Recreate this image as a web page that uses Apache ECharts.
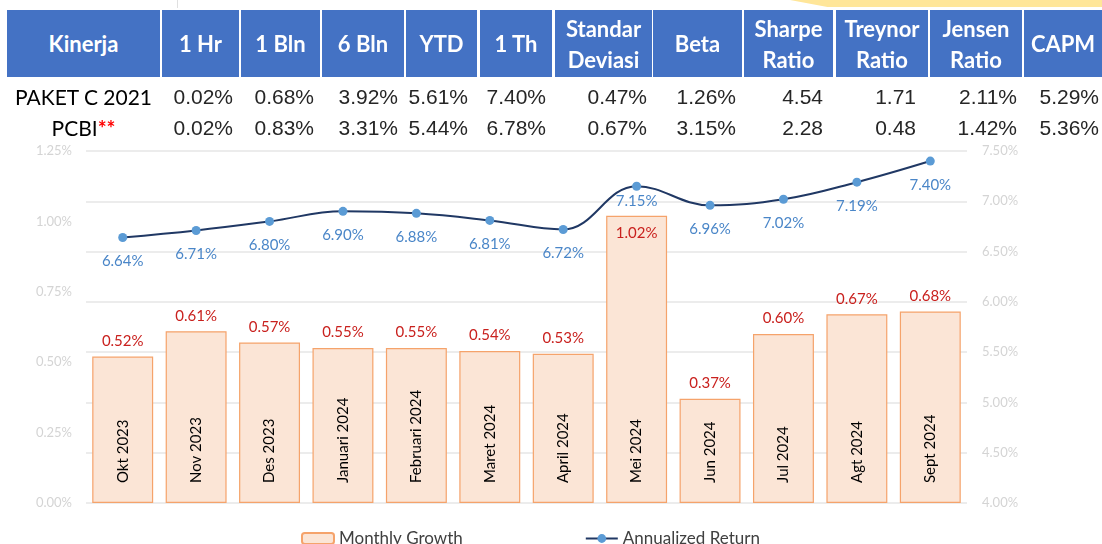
<!DOCTYPE html>
<html>
<head>
<meta charset="utf-8">
<script src="https://cdn.jsdelivr.net/npm/echarts@6/dist/echarts.min.js"></script>
<style>
* { margin: 0; padding: 0; }
body { width: 1102px; height: 544px; background: #fff; position: relative; overflow: hidden; }
#chart { position: absolute; left: 0; top: 0; width: 1102px; height: 544px; }
.hd { position: absolute; top: 10px; height: 67px; background: #4472C4; color: #fff;
      font: bold 22px Lato, sans-serif; display: flex; align-items: center; justify-content: center;
      text-align: center; line-height: 31px; white-space: pre; }
.rowname { position: absolute; width: 153px; left: 7px; text-align: center; font: 21px Lato, sans-serif; color: #000; }
.num { position: absolute; font: 21px "Liberation Sans", Arial, sans-serif; color: #262626; white-space: nowrap; }
.star { color: #ff0000; font-weight: bold; }
#deco { position: absolute; left: 790px; top: 0; width: 312px; height: 7px; background: #FFE699;
        clip-path: polygon(0 0, 100% 0, 100% 100%, 12% 100%); }
#tick { position: absolute; left: 177px; top: 0; width: 1px; height: 8px; background: #e0e0e0; }
</style>
</head>
<body>
<div id="chart"></div>
<div id="table"></div>
<div id="deco"></div>
<div id="tick"></div>
<script>
// tabel kinerja
const tableHeaders = ['Kinerja', '1 Hr', '1 Bln', '6 Bln', 'YTD', '1 Th', 'Standar\nDeviasi', 'Beta', 'Sharpe\nRatio', 'Treynor\nRatio', 'Jensen\nRatio', 'CAPM']
const rowNames = ['PAKET C 2021', 'PCBI']
const paketC = ['0.02%', '0.68%', '3.92%', '5.61%', '7.40%', '0.47%', '1.26%', '4.54', '1.71', '2.11%', '5.29%']
const pcbi = ['0.02%', '0.83%', '3.31%', '5.44%', '6.78%', '0.67%', '3.15%', '2.28', '0.48', '1.42%', '5.36%']

// grafik
const categories = ['Okt 2023', 'Nov 2023', 'Des 2023', 'Januari 2024', 'Februari 2024', 'Maret 2024', 'April 2024', 'Mei 2024', 'Jun 2024', 'Jul 2024', 'Agt 2024', 'Sept 2024']
const monthlyGrowth = [0.52, 0.61, 0.57, 0.55, 0.55, 0.54, 0.53, 1.02, 0.37, 0.60, 0.67, 0.68]
const annualizedReturn = [6.64, 6.71, 6.80, 6.90, 6.88, 6.81, 6.72, 7.15, 6.96, 7.02, 7.19, 7.40]
const labelInsideIdx = [7] // label bar Mei di dalam batang, label garis Mei lebih rapat

// layout tabel (x kiri/kanan tiap kolom header, x kanan angka)
const colEdges = [[7, 160], [162, 239], [241, 320], [322, 404], [406, 477], [480, 552], [555, 652], [653, 742], [744, 833], [836, 928], [930, 1022], [1024, 1102]]
const numRight = [233, 314, 398, 468, 546, 647, 736, 823, 916, 1017, 1099]
const rowTop = [84, 115]

function drawTable() {
    const box = document.getElementById('table')
    let html = ''
    tableHeaders.forEach((h, i) => {
        const [l, r] = colEdges[i]
        html += `<div class="hd" style="left:${l}px;width:${r - l}px">${h}</div>`
    })
    rowNames.forEach((name, ri) => {
        const txt = ri === 1 ? name + '<span class="star">**</span>' : name
        html += `<div class="rowname" style="top:${rowTop[ri]}px">${txt}</div>`
        const vals = ri === 0 ? paketC : pcbi
        vals.forEach((v, i) => {
            html += `<div class="num" style="top:${rowTop[ri] + 1}px;right:${1102 - numRight[i]}px">${v}</div>`
        })
    })
    box.innerHTML = html
}

function drawChart() {
    const chart = echarts.init(document.getElementById('chart'))
    const fmt = v => Number(v).toFixed(2) + '%'
    chart.setOption({
        textStyle: { fontFamily: 'Lato, sans-serif' },
        animation: false,
        grid: { left: 86, right: 135, top: 151, bottom: 41 },
        legend: {
            left: 296, top: 525, itemGap: 122, itemWidth: 32, itemHeight: 11,
            textStyle: { fontSize: 17, color: '#404040', fontFamily: 'Lato, sans-serif' },
            data: ['Monthly Growth', 'Annualized Return']
        },
        xAxis: {
            type: 'category',
            data: categories,
            z: 5,
            axisLine: { show: false },
            axisTick: { show: false },
            axisLabel: { inside: true, rotate: 90, margin: 20, fontSize: 15, color: '#000', interval: 0 }
        },
        yAxis: [
            {
                type: 'value', min: 0, max: 1.25, interval: 0.25,
                splitLine: { show: false },
                axisLabel: { formatter: fmt, color: '#d4d4d4', fontSize: 13, margin: 14 }
            },
            {
                type: 'value', min: 4, max: 7.5, interval: 0.5,
                splitLine: { lineStyle: { color: '#e6e6e6', width: 1.5 } },
                axisLabel: { formatter: fmt, color: '#d4d4d4', fontSize: 13, margin: 15 }
            }
        ],
        series: [
            {
                name: 'Monthly Growth',
                type: 'bar',
                barCategoryGap: '17%',
                data: monthlyGrowth.map((v, i) => labelInsideIdx.includes(i)
                    ? { value: v, label: { position: 'insideTop', distance: 10 } }
                    : v),
                itemStyle: { color: '#FBE5D6', borderColor: '#F5A36B', borderWidth: 1.2 },
                label: { show: true, position: 'top', distance: 8, fontSize: 15, color: '#C9211E', formatter: p => fmt(p.value) }
            },
            {
                name: 'Annualized Return',
                type: 'line',
                yAxisIndex: 1,
                smooth: 0.4,
                data: annualizedReturn.map((v, i) => labelInsideIdx.includes(i)
                    ? { value: v, label: { distance: 3 } }
                    : v),
                symbol: 'circle',
                symbolSize: 9,
                lineStyle: { color: '#203864', width: 2 },
                itemStyle: { color: '#5B9BD5' },
                label: { show: true, position: 'bottom', distance: 12, fontSize: 15, color: '#4A86C8', formatter: p => fmt(p.value) }
            }
        ]
    })
}

drawTable()
drawChart()
</script>
</body>
</html>
